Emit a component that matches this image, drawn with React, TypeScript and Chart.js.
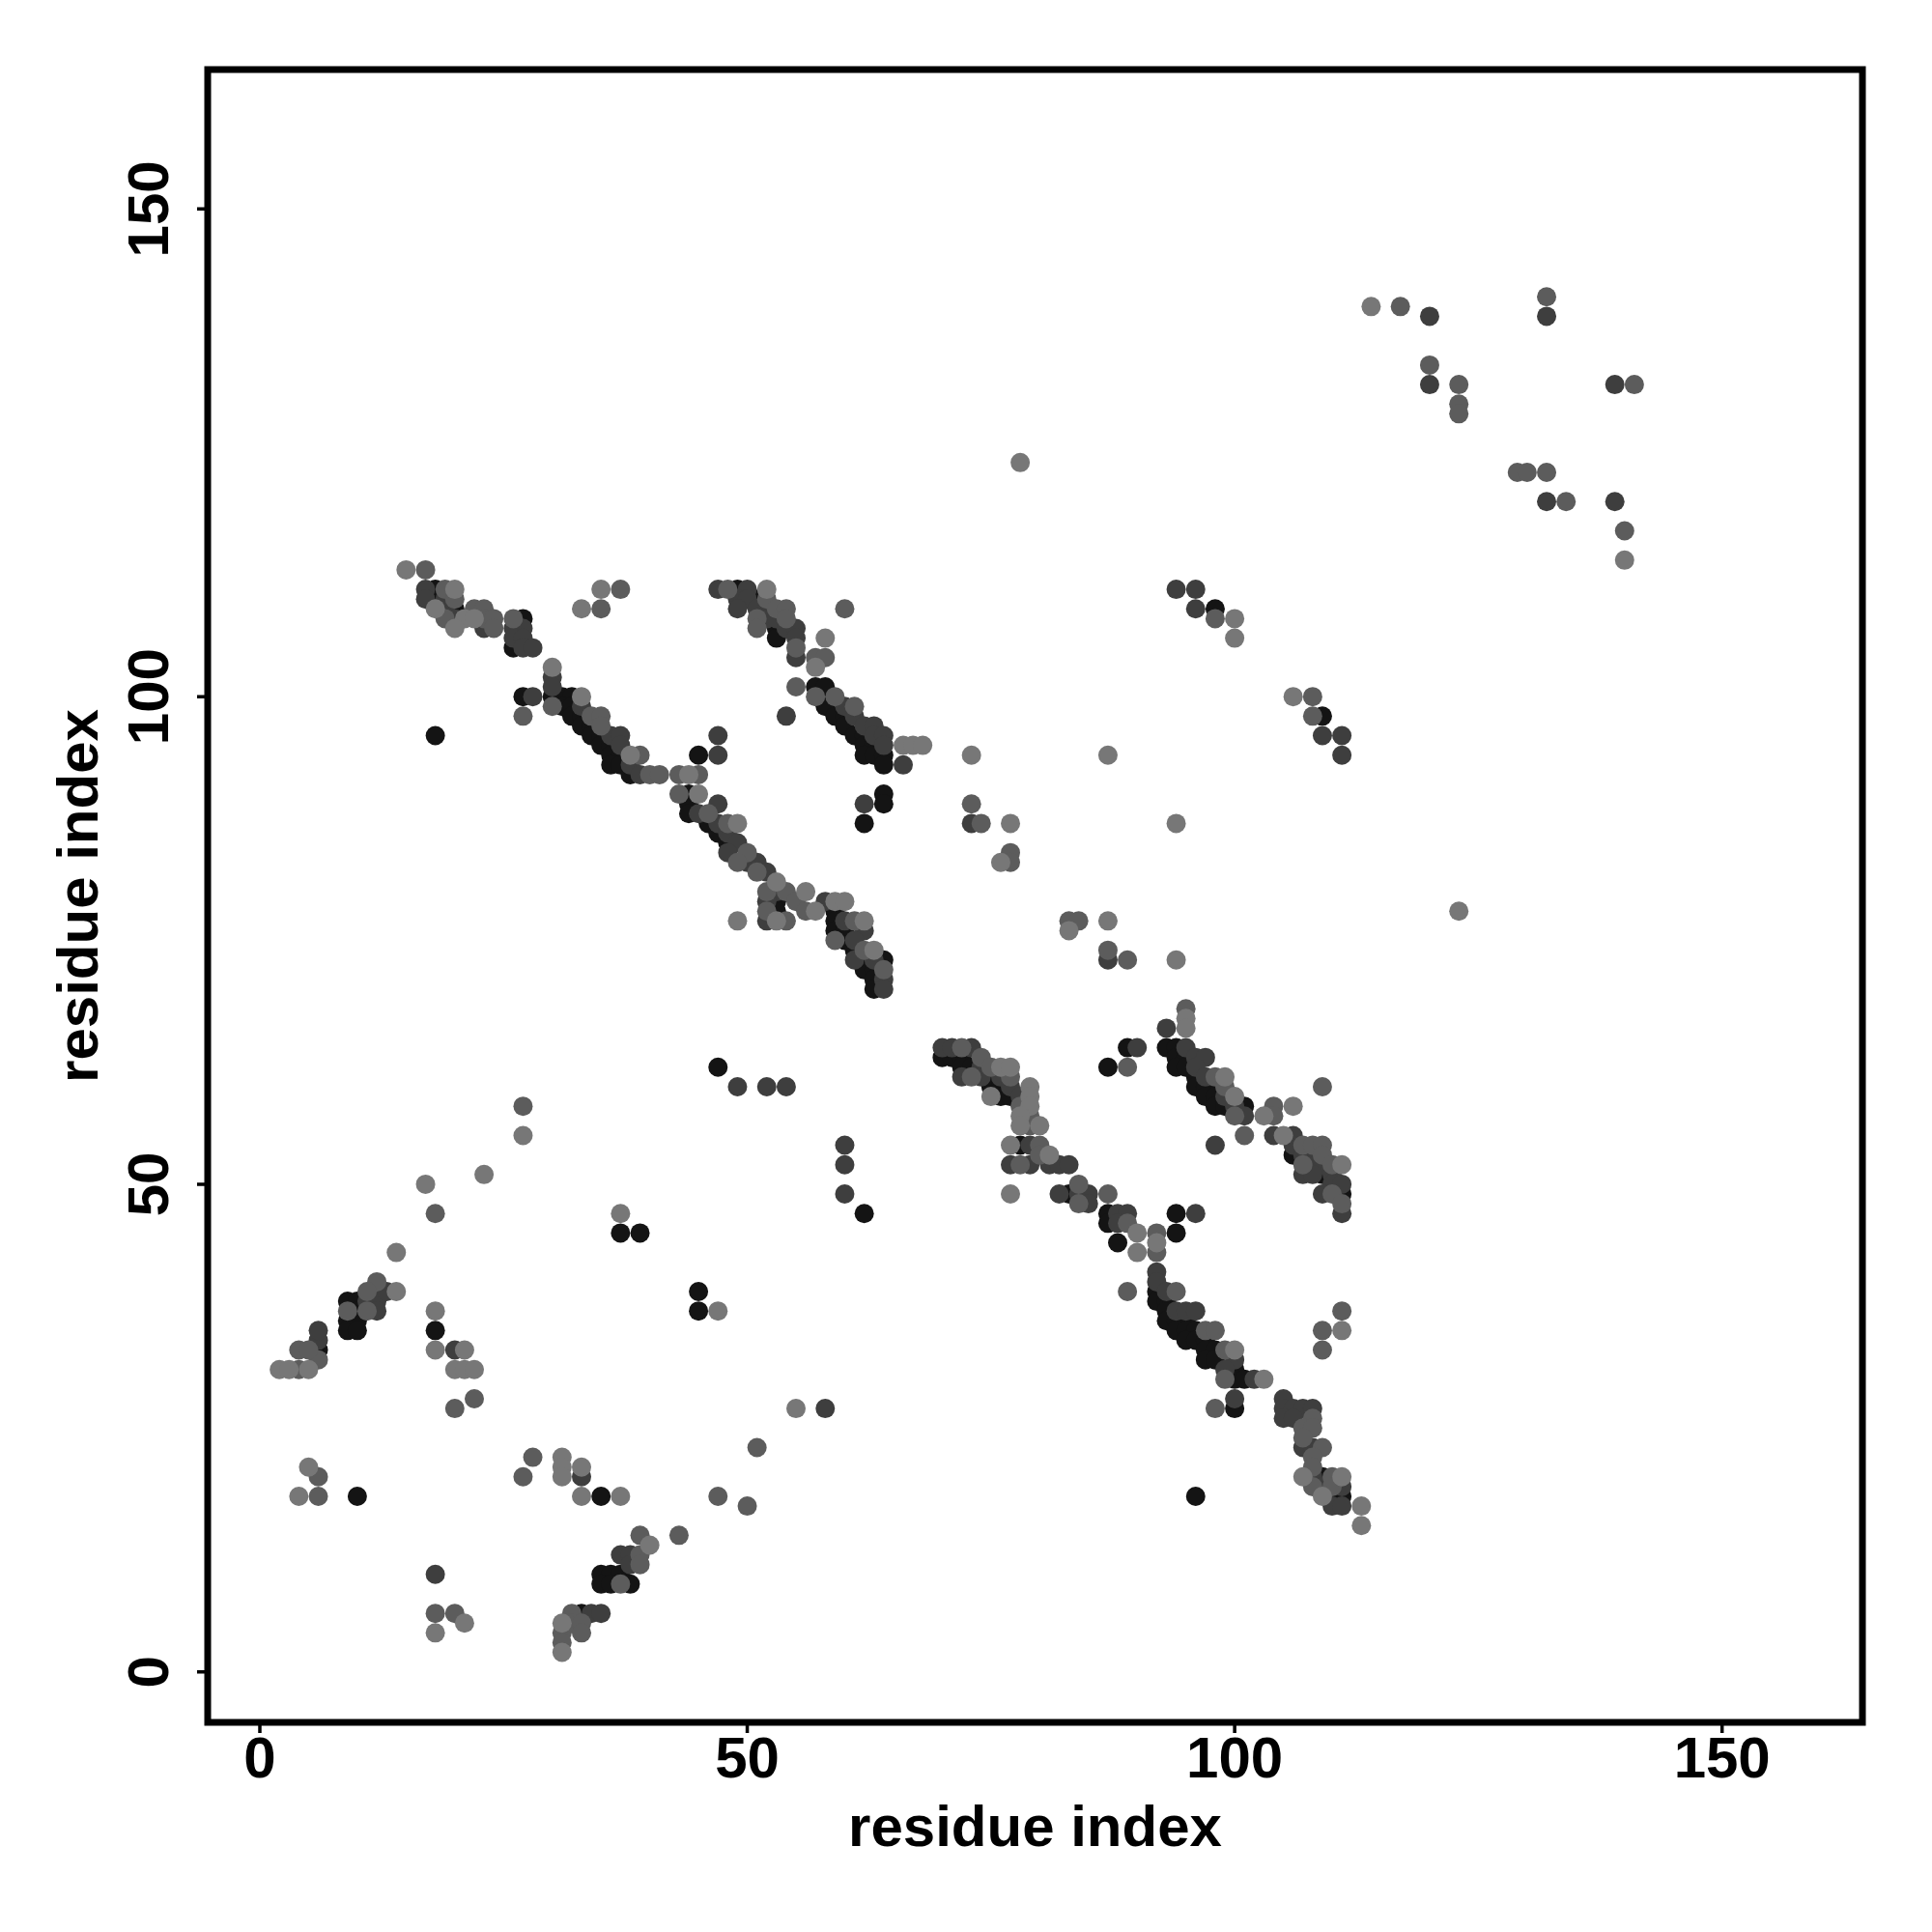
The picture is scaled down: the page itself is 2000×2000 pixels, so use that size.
import React, { useEffect, useRef } from "react";
import { Chart, registerables } from "chart.js";

Chart.register(...registerables);

const X_TICKS = [0, 50, 100, 150];
const Y_TICKS = [0, 50, 100, 150];
const X_TITLE = "residue index";
const Y_TITLE = "residue index";

type P = [number, number];

const LIGHT: P[] = [
  [15,113],[20,111],[18,109],[21,108],[22,108],[20,107],[33,109],[35,111],
  [30,103],[33,100],[38,94],[44,92],[45,90],[49,87],[53,81],[56,80],[57,78],[59,79],[60,79],[53,77],[62,77],[63,74],
  [52,111],[58,106],[57,103],[66,95],[67,95],[68,95],
  [73,94],[87,94],[78,124],[77,87],[94,87],[76,83],[83,76],[87,77],[94,73],[123,78],[49,77],
  [76,62],[77,62],[79,60],[75,59],[79,59],[79,58],[78,57],[78,56],[80,56],[77,54],[81,53],[77,49],[90,45],[90,43],[92,44],[100,33],[103,30],[107,20],[111,20],[109,18],[113,17],[113,15],
  [95,67],[95,66],[99,61],[100,59],[103,57],[106,58],[105,55],[111,52],
  [100,108],[100,106],[106,100],[114,140],[140,114],
  [14,43],[14,39],[2,31],[3,31],[5,31],[18,37],[18,33],[21,33],[20,31],[21,31],[22,31],[5,21],[4,18],[31,22],[31,21],[31,20],[33,21],[33,18],[37,18],[47,37],[37,47],[27,55],[23,51],[17,50],[55,27],[21,5],[18,4],[31,5],[31,2],[40,13],[111,35]
];

const MEDIUM: P[] = [
  [17,113],[19,111],[20,110],[19,108],[22,109],[23,109],[23,108],[24,108],[24,107],[26,108],[35,109],[37,111],
  [30,99],[27,98],[34,98],[35,98],[35,97],[39,94],[40,92],[41,92],[43,92],[45,92],[43,90],[46,88],[48,87],[50,84],[49,83],[51,82],[52,80],[54,80],[55,79],[52,78],[56,78],[54,77],[61,77],[59,75],[62,74],[64,72],
  [48,111],[52,110],[53,109],[54,109],[51,108],[54,108],[51,107],[55,105],[57,104],[58,104],[60,109],[57,100],[59,100],[61,99],[55,101],
  [73,89],[74,87],[77,84],[77,83],[83,77],[84,77],[87,74],[89,73],[95,68],
  [72,64],[74,63],[75,62],[73,61],[77,61],[78,58],[79,57],[79,56],[80,54],[80,53],[78,52],[84,50],[84,48],[87,49],[89,46],[92,45],[92,43],[89,39],[94,39],[97,35],[98,35],[99,33],[99,30],[98,27],[108,26],[107,25],[108,25],[107,24],[109,23],[108,22],[108,21],[110,20],[108,19],[110,19],
  [89,62],[98,61],[99,60],[100,57],[104,58],[104,57],[109,60],[101,55],[107,54],[108,54],[109,54],[109,53],[107,52],[110,52],[110,49],[111,48],
  [98,108],[108,100],[108,98],[117,140],[132,141],[120,134],[123,132],[123,130],[123,129],[141,132],[129,123],[130,123],[132,123],[134,120],[140,117],
  [12,40],[11,39],[9,37],[11,37],[6,32],[4,33],[5,33],[4,31],[20,27],[22,28],[6,20],[6,18],[28,22],[27,20],[47,18],[39,14],[43,14],[39,12],[39,11],[37,9],[18,6],[20,6],[31,4],[31,3],[32,6],[32,5],[33,5],[33,4],[27,58],[18,47],[51,23],[50,17],[109,35],[109,33],[111,37]
];

const DARK: P[] = [
  [17,111],[17,110],[19,110],[19,109],[20,108],[23,107],[26,107],[27,107],[26,106],[27,106],[27,105],[28,105],
  [30,102],[30,101],[28,100],[33,99],[36,96],[37,96],[37,95],[38,93],[39,92],[45,88],[47,87],[47,89],[48,86],[49,85],[48,84],[50,83],[51,83],[52,82],[53,80],[52,79],[58,79],[52,77],[60,77],[62,76],[61,75],[61,73],[63,73],[64,71],[64,70],[47,96],[47,94],
  [47,111],[50,111],[49,110],[50,110],[49,109],[51,109],[52,109],[52,108],[53,108],[54,107],[55,107],[55,106],[55,104],[60,99],[61,98],[62,97],[63,97],[63,96],[64,96],[64,95],[66,93],[54,98],[62,89],
  [73,87],[87,73],[93,66],[90,64],
  [70,64],[71,64],[73,64],[74,62],[72,61],[74,61],[76,61],[77,60],[78,59],[79,54],[77,52],[79,52],[81,52],[82,52],[83,52],[82,49],[84,49],[85,49],[85,48],[88,47],[89,47],[88,46],[92,41],[92,40],[93,39],[94,37],[95,37],[96,37],[100,32],[99,31],[102,30],[100,28],[105,28],[105,27],[106,27],[107,27],[108,27],[105,26],[106,26],[107,23],[108,23],[108,20],[109,19],[111,19],[110,17],[111,17],
  [95,64],[96,63],[97,63],[96,62],[97,61],[99,59],[100,58],[101,57],[98,54],[104,55],[106,55],[106,54],[107,53],[108,53],[109,52],[107,51],[108,51],[110,51],[110,50],[111,50],[109,49],[111,47],
  [94,111],[96,111],[96,109],[120,139],[132,139],[120,132],[139,132],[132,120],[139,120],[109,96],[111,96],[111,94],
  [49,60],[52,60],[54,60],[60,54],[60,52],[60,49],[96,47],[11,38],[12,38],[12,37],[13,39],[6,34],[6,35],[20,33],[18,10],[33,20],[37,12],[38,12],[38,11],[34,6],[35,6],[58,27]
];

const BLACK: P[] = [
  [18,111],[18,110],[20,109],[27,108],[26,105],[18,96],
  [30,100],[27,100],[31,100],[32,100],[31,99],[32,99],[32,98],[33,98],[33,97],[34,97],[34,96],[35,96],[35,95],[36,95],[36,94],[37,94],[36,93],[37,93],[38,92],[45,94],[44,90],[44,89],[44,88],[46,87],[47,86],[48,85],[53,79],[53,78],[59,78],[59,77],[59,76],[60,76],[60,75],[61,74],[62,73],[64,73],[62,72],[63,72],[63,71],[63,70],
  [49,111],[51,110],[53,107],[53,106],[57,101],[58,101],[58,99],[59,98],[60,98],[60,97],[61,96],[62,96],[62,95],[63,95],[62,94],[63,94],[64,94],[64,93],[64,90],[64,89],[62,87],
  [70,63],[71,63],[72,63],[72,62],[73,62],[75,61],[75,60],[76,60],[76,59],[77,59],[78,54],[83,49],[87,47],[87,46],[88,44],[94,45],[92,39],[92,38],[93,38],[93,37],[93,36],[94,36],[95,36],[94,35],[95,35],[96,35],[95,34],[96,34],[97,34],[97,33],[98,33],[97,32],[98,32],[100,31],[100,30],[101,30],[100,27],[109,20],[110,18],[111,18],
  [89,64],[87,62],[93,64],[94,64],[94,63],[95,63],[94,62],[95,62],[96,61],[96,60],[97,60],[98,60],[97,59],[98,59],[98,58],[99,58],[101,58],[106,53],[108,52],[109,51],[111,49],
  [98,109],[109,98],
  [47,62],[62,47],[94,47],[45,39],[45,37],[37,45],[39,45],[9,38],[10,38],[10,37],[9,36],[10,36],[9,35],[10,35],[6,33],[18,35],[10,18],[35,18],[96,18],[35,10],[36,10],[37,10],[35,9],[36,9],[38,9],[33,6]
];

const SERIES: { name: string; color: string; pts: P[] }[] = [
  { name: "light", color: "#777777", pts: LIGHT },
  { name: "medium", color: "#5c5c5c", pts: MEDIUM },
  { name: "dark", color: "#3e3e3e", pts: DARK },
  { name: "black", color: "#141414", pts: BLACK },
];

const FONT = '"Liberation Sans", Arial, Helvetica, sans-serif';

const framePlugin = {
  id: "rframe",
  afterDraw(chart: any) {
    const { ctx, chartArea: a, scales } = chart;
    const x = scales.x;
    const y = scales.y;
    ctx.save();
    ctx.strokeStyle = "#000";
    ctx.lineWidth = 7;
    ctx.strokeRect(a.left, a.top, a.right - a.left, a.bottom - a.top);
    ctx.lineWidth = 3.5;
    ctx.beginPath();
    X_TICKS.forEach((v) => {
      const px = x.getPixelForValue(v);
      ctx.moveTo(px, a.bottom);
      ctx.lineTo(px, a.bottom + 11);
    });
    Y_TICKS.forEach((v) => {
      const py = y.getPixelForValue(v);
      ctx.moveTo(a.left, py);
      ctx.lineTo(a.left - 11, py);
    });
    ctx.stroke();

    ctx.fillStyle = "#000";
    ctx.textAlign = "center";
    ctx.textBaseline = "alphabetic";
    ctx.font = `bold 60px ${FONT}`;
    X_TICKS.forEach((v) => {
      ctx.fillText(String(v), x.getPixelForValue(v), a.bottom + 57);
    });
    Y_TICKS.forEach((v) => {
      ctx.save();
      ctx.translate(a.left - 41, y.getPixelForValue(v));
      ctx.rotate(-Math.PI / 2);
      ctx.fillText(String(v), 0, 0);
      ctx.restore();
    });
    ctx.font = `bold 60px ${FONT}`;
    ctx.fillText(X_TITLE, (a.left + a.right) / 2, a.bottom + 128);
    ctx.save();
    ctx.translate(a.left - 114, (a.top + a.bottom) / 2);
    ctx.rotate(-Math.PI / 2);
    ctx.fillText(Y_TITLE, 0, 0);
    ctx.restore();
    ctx.restore();
  },
};

export default function App() {
  const ref = useRef<HTMLCanvasElement | null>(null);
  useEffect(() => {
    if (!ref.current) return;
    const chart = new Chart(ref.current, {
      type: "scatter",
      data: {
        datasets: SERIES.map((s) => ({
          label: s.name,
          data: s.pts.map(([px, py]) => ({ x: px, y: py })),
          backgroundColor: s.color,
          borderColor: s.color,
          borderWidth: 0,
          pointRadius: 10,
          pointHoverRadius: 10,
        })),
      },
      options: {
        responsive: false,
        devicePixelRatio: 1,
        animation: false,
        events: [],
        layout: { padding: { left: 215, right: 72, top: 72, bottom: 217 } },
        plugins: { legend: { display: false }, tooltip: { enabled: false } },
        scales: {
          x: { type: "linear", min: -5.35, max: 164.4, display: false },
          y: { type: "linear", min: -5.18, max: 164.3, display: false },
        },
      },
      plugins: [framePlugin],
    });
    return () => chart.destroy();
  }, []);
  return (
    <div style={{ position: "absolute", left: 0, top: 0, width: 2000, height: 2000, background: "#fff" }}>
      <canvas ref={ref} width={2000} height={2000} style={{ display: "block", width: 2000, height: 2000 }} />
    </div>
  );
}
